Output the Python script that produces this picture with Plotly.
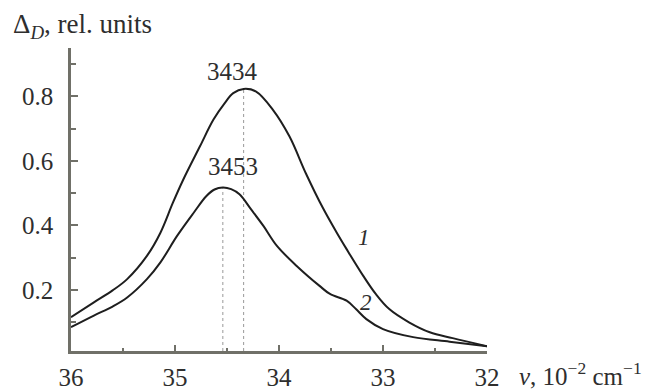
import numpy as np
import plotly.graph_objects as go

# ---- data ----
nu1 = [36.00, 35.78, 35.60, 35.46, 35.27, 35.14, 35.02, 34.92, 34.76, 34.63, 34.52, 34.44,
       34.34, 34.22, 34.06, 33.90, 33.74, 33.58, 33.45, 33.35, 33.19, 33.07, 32.94, 32.75,
       32.55, 32.33, 32.00]
d1 = [0.115, 0.161, 0.198, 0.233, 0.305, 0.377, 0.470, 0.542, 0.645, 0.728, 0.780, 0.810,
      0.823, 0.815, 0.759, 0.676, 0.560, 0.455, 0.380, 0.326, 0.243, 0.187, 0.140, 0.099,
      0.068, 0.050, 0.025]

nu2 = [36.00, 35.78, 35.60, 35.46, 35.27, 35.14, 34.98, 34.82, 34.70, 34.62, 34.54, 34.46,
       34.38, 34.27, 34.15, 34.02, 33.83, 33.61, 33.51, 33.35, 33.26, 33.16, 33.00, 32.71,
       32.36, 32.00]
d2 = [0.084, 0.120, 0.148, 0.176, 0.233, 0.285, 0.367, 0.439, 0.490, 0.511, 0.517, 0.512,
      0.496, 0.450, 0.398, 0.336, 0.274, 0.212, 0.187, 0.166, 0.140, 0.109, 0.078, 0.053,
      0.039, 0.025]

peak_labels = ["3434", "3453"]
curve_labels = ["1", "2"]
curve_label_pos = [(33.18, 0.362), (33.16, 0.160)]
x_ticks = [36, 35, 34, 33, 32]
y_ticks = [0.2, 0.4, 0.6, 0.8]

x_range = [36, 32]
y_range = [0.01, 0.95]

FONT = "Liberation Serif"
TXT = "#2e2e2e"
AXC = "#707068"
LINE = "#1e1e1e"

fig = go.Figure()
for xs, ys in [(nu1, d1), (nu2, d2)]:
    fig.add_trace(go.Scatter(x=xs, y=ys, mode="lines",
                             line=dict(color=LINE, width=2, shape="spline", smoothing=1.0),
                             showlegend=False, hoverinfo="skip"))

shapes = []
annotations = []
shifts = [(-11, 17), (10, 21)]
for (xs, ys), lab, (dx, dy) in zip([(nu1, d1), (nu2, d2)], peak_labels, shifts):
    i = int(np.argmax(ys))
    px, py = xs[i], ys[i]
    shapes.append(dict(type="line", xref="x", yref="y", x0=px, x1=px, y0=y_range[0], y1=py,
                       line=dict(color="#999999", width=1, dash="dot"), layer="below"))
    annotations.append(dict(x=px, y=py, xref="x", yref="y", text=lab, showarrow=False,
                            xshift=dx, yshift=dy, font=dict(family=FONT, size=25, color=TXT)))

for lab, (lx, ly) in zip(curve_labels, curve_label_pos):
    annotations.append(dict(x=lx, y=ly, xref="x", yref="y", text="<i>%s</i>" % lab,
                            showarrow=False, font=dict(family=FONT, size=23, color=TXT)))

annotations.append(dict(x=0, y=1, xref="paper", yref="paper", xanchor="left", yanchor="bottom",
                        xshift=-60, yshift=3, showarrow=False,
                        text="Δ<sub><i>D</i></sub>, rel. units",
                        font=dict(family=FONT, size=27, color=TXT)))
annotations.append(dict(x=1, y=0, xref="paper", yref="paper", xanchor="right", yanchor="top",
                        xshift=157, yshift=-5, showarrow=False,
                        text="<i>ν</i>, 10<sup>−2</sup> cm<sup>−1</sup>",
                        font=dict(family=FONT, size=25, color=TXT)))

fig.update_layout(
    template="none",
    width=647, height=391,
    margin=dict(l=71, r=160, t=48, b=40, autoexpand=False),
    paper_bgcolor="white", plot_bgcolor="white",
    shapes=shapes, annotations=annotations,
    font=dict(family=FONT, size=25, color=TXT),
)
fig.update_xaxes(range=x_range, tickvals=x_ticks, ticktext=[str(v) for v in x_ticks],
                 automargin=False,
                 ticks="inside", ticklen=6, tickwidth=1.5, tickcolor=AXC,
                 showline=True, linecolor=AXC, linewidth=2.5, showgrid=False, zeroline=False,
                 minor=dict(dtick=0.5, ticks="inside", ticklen=3, tickwidth=1.5, tickcolor=AXC, showgrid=False),
                 tickfont=dict(family=FONT, size=25, color=TXT), ticklabelstandoff=2)
fig.update_yaxes(range=y_range, tickvals=y_ticks, ticktext=[str(v) for v in y_ticks],
                 automargin=False,
                 ticks="inside", ticklen=7, tickwidth=1.5, tickcolor=AXC,
                 showline=True, linecolor=AXC, linewidth=2.5, showgrid=False, zeroline=False,
                 minor=dict(tickvals=[0.1, 0.3, 0.5, 0.7, 0.9], ticks="inside", ticklen=5,
                            tickwidth=1.5, tickcolor=AXC, showgrid=False),
                 tickfont=dict(family=FONT, size=25, color=TXT), ticklabelstandoff=10)

fig.write_html("out.html", config={"displayModeBar": False},
               post_script="document.body.style.margin='0';document.body.style.overflow='hidden';")
